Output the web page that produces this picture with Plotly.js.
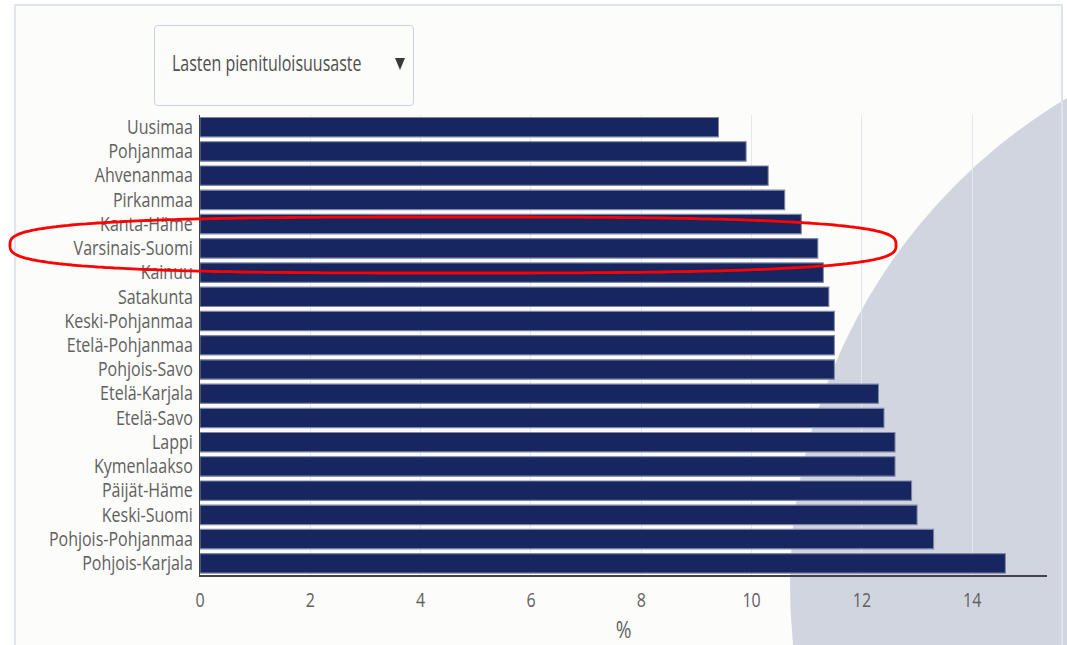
<!DOCTYPE html>
<html>
<head>
<meta charset="utf-8">
<script src="https://cdn.plot.ly/plotly-3.0.1.min.js"></script>
<style>
  html, body { margin:0; padding:0; background:#ffffff; }
  #stage { position:relative; width:1067px; height:645px; overflow:hidden; background:#ffffff; }
  #framebg { position:absolute; left:14px; top:4px; width:1049px; height:700px; background:#fcfcfa; z-index:0; }
  #circle { position:absolute; left:790px; top:18px; width:1135px; height:1135px; border-radius:50%; background:#d1d5e0; z-index:1; }
  #plot { position:absolute; left:0; top:0; width:1067px; height:538px; transform:scaleY(1.1989); transform-origin:0 0; z-index:2; }
  #frame { position:absolute; left:14px; top:4px; width:1045px; height:700px; border:2px solid #dee3ec; z-index:3; pointer-events:none; }
  #dropdown { position:absolute; left:154px; top:25px; width:258px; height:79px; border:1px solid #c9d0e3; border-radius:4px; background:#fcfcfa; z-index:4; }
  #ddtext { position:absolute; left:17px; top:26px; font-family:"Open Sans", sans-serif; font-size:16px; color:#4f4f4f; transform:scaleY(1.35); transform-origin:0 50%; white-space:nowrap; line-height:22px; }
  #ddarrow { position:absolute; left:240px; top:32px; width:0; height:0; border-left:5px solid transparent; border-right:5px solid transparent; border-top:12px solid #3a3a3a; }
  #overlay { position:absolute; left:0; top:0; z-index:5; pointer-events:none; }
</style>
</head>
<body>
<div id="stage">
  <div id="framebg"></div>
  <div id="circle"></div>
  <div id="plot"></div>
  <div id="frame"></div>
  <div id="dropdown"><span id="ddtext">Lasten pienituloisuusaste</span><div id="ddarrow"></div></div>
  <svg id="overlay" width="1067" height="645"><path id="ring" fill="none" stroke="#ff0000" stroke-width="2.8"/></svg>
</div>
<script>
const categories = ['Uusimaa','Pohjanmaa','Ahvenanmaa','Pirkanmaa','Kanta-Häme','Varsinais-Suomi','Kainuu','Satakunta','Keski-Pohjanmaa','Etelä-Pohjanmaa','Pohjois-Savo','Etelä-Karjala','Etelä-Savo','Lappi','Kymenlaakso','Päijät-Häme','Keski-Suomi','Pohjois-Pohjanmaa','Pohjois-Karjala'];
const values = [9.4, 9.9, 10.3, 10.6, 10.9, 11.2, 11.3, 11.4, 11.5, 11.5, 11.5, 12.3, 12.4, 12.6, 12.6, 12.9, 13.0, 13.3, 14.6];
const xTicks = [0, 2, 4, 6, 8, 10, 12, 14];
const xTitle = '%';

const font = {family:'"Open Sans", sans-serif', size:16, color:'#606060'};
const titleFont = {family:'"Open Sans", sans-serif', size:19, color:'#606060'};

const trace = {
  type:'bar', orientation:'h',
  x: values, y: categories,
  marker:{color:'#17265e', line:{color:'#7d85a8', width:1}},
  hoverinfo:'none'
};

const layout = {
  width:1067, height:538,
  margin:{l:200, r:20, t:96, b:58, pad:0},
  paper_bgcolor:'rgba(0,0,0,0)', plot_bgcolor:'rgba(0,0,0,0)',
  bargap:0.2,
  showlegend:false,
  font: font,
  xaxis:{
    range:[0, 15.355], tickvals:xTicks, ticktext:xTicks.map(String),
    showgrid:true, gridcolor:'#e4e7ee', gridwidth:1,
    zeroline:false, showline:true, linecolor:'#444444', linewidth:1,
    ticks:'', ticklabelstandoff:6, tickfont:font,
    title:{text:xTitle, font:titleFont, standoff:9},
    automargin:false, fixedrange:true
  },
  yaxis:{
    type:'category', autorange:'reversed',
    showgrid:false, zeroline:false, showline:true, linecolor:'#444444', linewidth:1,
    ticks:'', ticklabelstandoff:3, tickfont:font,
    automargin:false, fixedrange:true
  }
};

Plotly.newPlot('plot', [trace], layout, {displayModeBar:false, staticPlot:true});

// hand-drawn style highlight ring (superellipse) around Varsinais-Suomi
(function(){
  const cx = 453, cy = 245, a = 443, b = 28, n = 3;
  const pts = [];
  for (let i = 0; i <= 360; i++) {
    const t = i / 360 * 2 * Math.PI;
    const c = Math.cos(t), s = Math.sin(t);
    const x = cx + a * Math.sign(c) * Math.pow(Math.abs(c), 2 / n);
    const y = cy + b * Math.sign(s) * Math.pow(Math.abs(s), 2 / n);
    pts.push((i ? 'L' : 'M') + x.toFixed(1) + ' ' + y.toFixed(1));
  }
  document.getElementById('ring').setAttribute('d', pts.join(' ') + ' Z');
})();
</script>
</body>
</html>
